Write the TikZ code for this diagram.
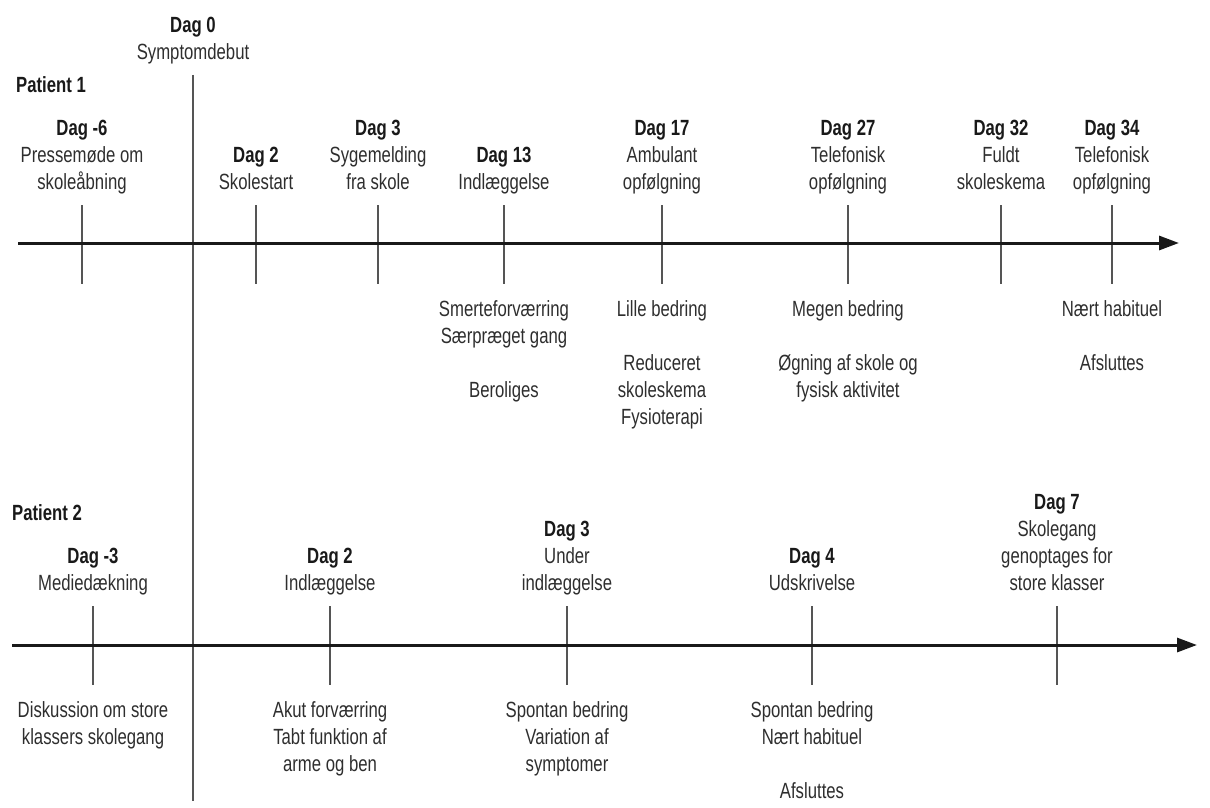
\documentclass[tikz,border=0pt]{standalone}
\usepackage{fontspec}
\setmainfont[FakeStretch=0.76]{Liberation Sans}
\usepackage{xcolor}
\usepackage{tikz}
\usetikzlibrary{positioning,arrows.meta}
\definecolor{textgray}{HTML}{2E2E2E}
\definecolor{linegray}{HTML}{555555}
\newcommand{\daytitle}[1]{\textcolor{black!90}{\textbf{#1}}}

\begin{document}
\begin{tikzpicture}[x=1pt,y=-1pt,
  axis/.style={line width=3pt,black!90,-{Triangle[length=20pt,width=14pt]}},
  tick/.style={line width=1.2pt,linegray},
  daylabel/.style={align=center,inner sep=0pt,text=textgray,font=\fontsize{22}{27}\selectfont,
    execute at begin node=\strut,execute at end node=\strut},
  patient/.style={anchor=west,inner sep=0pt,text=black!90,font=\fontsize{22}{27}\selectfont\bfseries}]
\useasboundingbox (0,0) rectangle (1210,808);

% dag 0
\coordinate (d0top) at (193,75);
\coordinate (d0bot) at (193,801);
\draw[tick] (d0top) -- (d0bot);
\node[daylabel,above=7pt of d0top] (dag0) {\daytitle{Dag 0}\\Symptomdebut};

% patient 1
\node[patient] (pat1) at (16,85) {Patient 1};
\foreach \x/\nm/\txt in {82/a/{\daytitle{Dag -6}\\Pressemøde om\\skoleåbning},
    256/b/{\daytitle{Dag 2}\\Skolestart},
    378/c/{\daytitle{Dag 3}\\Sygemelding\\fra skole},
    504/d/{\daytitle{Dag 13}\\Indlæggelse},
    662/e/{\daytitle{Dag 17}\\Ambulant\\opfølgning},
    848/f/{\daytitle{Dag 27}\\Telefonisk\\opfølgning},
    1001/g/{\daytitle{Dag 32}\\Fuldt\\skoleskema},
    1112/h/{\daytitle{Dag 34}\\Telefonisk\\opfølgning}}{
  \coordinate (u1\nm) at (\x,205);
  \coordinate (d1\nm) at (\x,284);
  \draw[tick] (u1\nm) -- (d1\nm);
  \node[daylabel,above=7pt of u1\nm] (top1\nm) {\txt};
}
\coordinate (p1start) at (18,243);
\coordinate (p1end) at (1179,243);
\draw[axis] (p1start) -- (p1end);
\node[daylabel,below=16pt of d1d] (bot1d) {Smerteforværring\\Særpræget gang\\[27pt]Beroliges};
\node[daylabel,below=16pt of d1e] (bot1e) {Lille bedring\\[27pt]Reduceret\\skoleskema\\Fysioterapi};
\node[daylabel,below=16pt of d1f] (bot1f) {Megen bedring\\[27pt]Øgning af skole og\\fysisk aktivitet};
\node[daylabel,below=16pt of d1h] (bot1h) {Nært habituel\\[27pt]Afsluttes};

% patient 2
\node[patient] (pat2) at (12,513) {Patient 2};
\foreach \x/\nm/\txt in {93/a/{\daytitle{Dag -3}\\Mediedækning},
    330/b/{\daytitle{Dag 2}\\Indlæggelse},
    567/c/{\daytitle{Dag 3}\\Under\\indlæggelse},
    812/d/{\daytitle{Dag 4}\\Udskrivelse},
    1057/e/{\daytitle{Dag 7}\\Skolegang\\genoptages for\\store klasser}}{
  \coordinate (u2\nm) at (\x,606);
  \coordinate (d2\nm) at (\x,685);
  \draw[tick] (u2\nm) -- (d2\nm);
  \node[daylabel,above=7pt of u2\nm] (top2\nm) {\txt};
}
\coordinate (p2start) at (12,645);
\coordinate (p2end) at (1197,645);
\draw[axis] (p2start) -- (p2end);
\node[daylabel,below=16pt of d2a] (bot2a) {Diskussion om store\\klassers skolegang};
\node[daylabel,below=16pt of d2b] (bot2b) {Akut forværring\\Tabt funktion af\\arme og ben};
\node[daylabel,below=16pt of d2c] (bot2c) {Spontan bedring\\Variation af\\symptomer};
\node[daylabel,below=16pt of d2d] (bot2d) {Spontan bedring\\Nært habituel\\[27pt]Afsluttes};
\end{tikzpicture}
\end{document}
